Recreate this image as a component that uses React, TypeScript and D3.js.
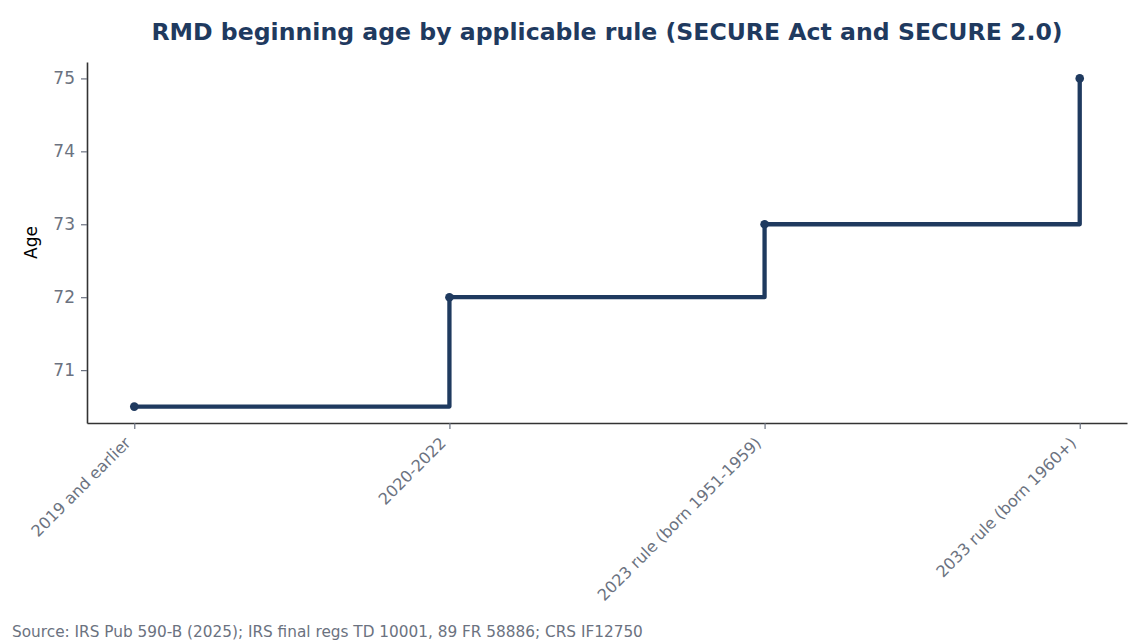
import { useEffect, useRef } from 'react';
import * as d3 from 'd3';

const categories = ['2019 and earlier', '2020-2022', '2023 rule (born 1951-1959)', '2033 rule (born 1960+)'];
const ages = [70.5, 72, 73, 75];
const yTicks = [71, 72, 73, 74, 75];

const NAVY = '#1f3a5f';
const GRAY = '#6b7280';
const FONT = '"DejaVu Sans", sans-serif';

export default function App() {
  const svgRef = useRef<SVGSVGElement>(null);

  useEffect(() => {
    if (!svgRef.current) return;
    const W = 1148;
    const H = 644;
    const margin = { top: 62, right: 21, bottom: 221, left: 87 };
    const width = W - margin.left - margin.right;
    const height = H - margin.top - margin.bottom;

    const root = d3.select(svgRef.current);
    root.selectAll('*').remove();
    root.attr('width', W).attr('height', H).attr('viewBox', `0 0 ${W} ${H}`);

    const svg = root.append('g').attr('transform', `translate(${margin.left},${margin.top})`);

    // matplotlib-like 5% margins
    const x = d3.scaleLinear().domain([-0.15, categories.length - 1 + 0.15]).range([0, width]);
    const yPad = (d3.max(ages)! - d3.min(ages)!) * 0.05;
    const y = d3.scaleLinear().domain([d3.min(ages)! - yPad, d3.max(ages)! + yPad]).range([height, 0]);

    const pts = ages.map((v, i) => [i, v] as [number, number]);

    const line = d3
      .line<[number, number]>()
      .x((d) => x(d[0]))
      .y((d) => y(d[1]))
      .curve(d3.curveStepAfter);

    // axes
    const yAxis = svg
      .append('g')
      .call(d3.axisLeft(y).tickValues(yTicks).tickSizeInner(6).tickSizeOuter(0).tickPadding(6).tickFormat(d3.format('d')));
    yAxis.select('.domain').attr('stroke', '#333').attr('stroke-width', 1.6);
    yAxis.selectAll('.tick line').attr('stroke', GRAY).attr('stroke-width', 1.2);
    yAxis.selectAll('.tick text').attr('fill', GRAY).attr('font-size', 17).attr('font-family', FONT);

    const xAxis = svg
      .append('g')
      .attr('transform', `translate(0,${height})`)
      .call(
        d3
          .axisBottom(x)
          .tickValues(d3.range(categories.length))
          .tickSizeInner(6)
          .tickSizeOuter(0)
          .tickFormat((d) => categories[d as number])
      );
    xAxis.select('.domain').attr('stroke', '#333').attr('stroke-width', 1.6);
    xAxis.selectAll('.tick line').attr('stroke', GRAY).attr('stroke-width', 1.2);
    xAxis
      .selectAll('.tick text')
      .attr('fill', GRAY)
      .attr('font-size', 16)
      .attr('font-family', FONT)
      .attr('text-anchor', 'end')
      .attr('y', 0)
      .attr('dy', 0)
      .attr('transform', 'translate(-3,21) rotate(-45)');

    svg
      .append('path')
      .datum(pts)
      .attr('d', line)
      .attr('fill', 'none')
      .attr('stroke', NAVY)
      .attr('stroke-width', 4.3)
      .attr('stroke-linejoin', 'round');

    svg
      .selectAll('circle')
      .data(pts)
      .join('circle')
      .attr('cx', (d) => x(d[0]))
      .attr('cy', (d) => y(d[1]))
      .attr('r', 4.3)
      .attr('fill', NAVY);

    root
      .append('text')
      .attr('x', margin.left + width / 2)
      .attr('y', 40)
      .attr('text-anchor', 'middle')
      .attr('font-family', FONT)
      .attr('font-weight', 'bold')
      .attr('font-size', 23.6)
      .attr('fill', NAVY)
      .text('RMD beginning age by applicable rule (SECURE Act and SECURE 2.0)');

    root
      .append('text')
      .attr('transform', `translate(37,${margin.top + height / 2}) rotate(-90)`)
      .attr('text-anchor', 'middle')
      .attr('font-family', FONT)
      .attr('font-size', 17)
      .attr('fill', '#000')
      .text('Age');

    root
      .append('text')
      .attr('x', 12)
      .attr('y', 637)
      .attr('font-family', FONT)
      .attr('font-size', 15.3)
      .attr('fill', GRAY)
      .text('Source: IRS Pub 590-B (2025); IRS final regs TD 10001, 89 FR 58886; CRS IF12750');
  }, []);

  return <svg ref={svgRef} style={{ position: 'absolute', left: 0, top: 0, display: 'block', background: '#fff' }} />;
}
